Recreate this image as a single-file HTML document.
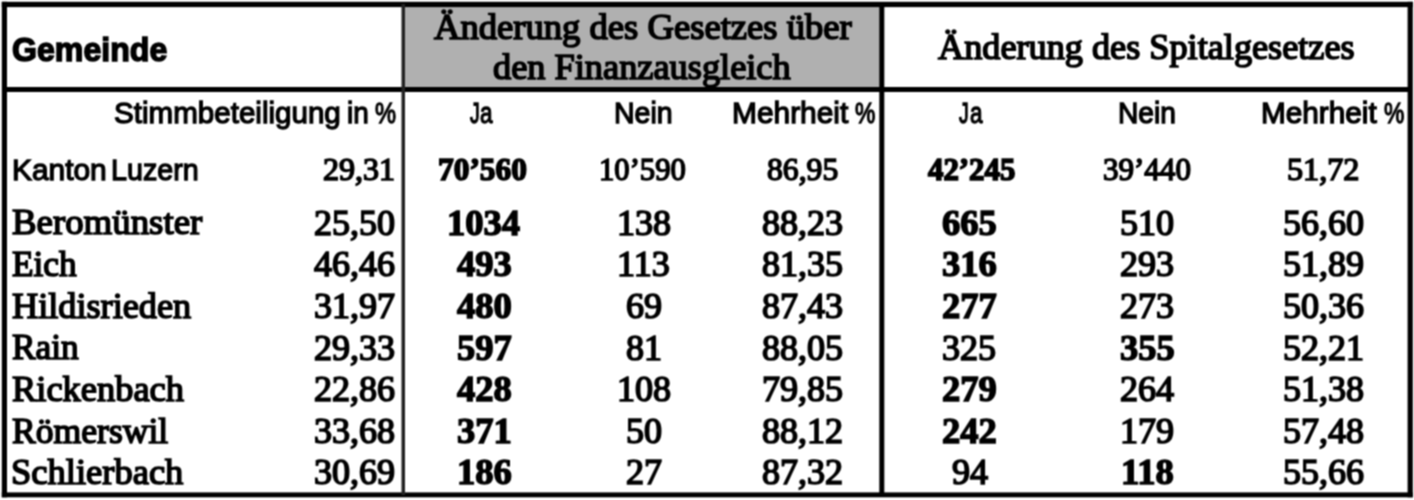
<!DOCTYPE html>
<html lang="de">
<head>
<meta charset="utf-8">
<title>Abstimmungsresultate</title>
<style>
html,body{margin:0;padding:0;background:#fff;}
body{width:1414px;height:500px;position:relative;overflow:hidden;font-family:"Liberation Serif",serif;color:#000;}
#page{position:absolute;left:0;top:0;width:1414px;height:500px;filter:url(#soft);}
#txt{position:absolute;left:0;top:0;width:1414px;height:500px;}
.box{position:absolute;box-sizing:border-box;}
.t{position:absolute;white-space:nowrap;line-height:1;transform-origin:0 0;-webkit-text-stroke-color:#000;}
.sf{font-family:"Liberation Serif",serif;}
.ss{font-family:"Liberation Sans",sans-serif;}
.b{font-weight:bold;}
</style>
</head>
<body>
<svg width="0" height="0" style="position:absolute;left:0;top:0;"><defs>
<filter id="soft" x="0" y="0" width="100%" height="100%" filterUnits="objectBoundingBox" color-interpolation-filters="sRGB">
<feConvolveMatrix order="3" kernelMatrix="1 2 1 2 4 2 1 2 1" divisor="16" edgeMode="duplicate" preserveAlpha="false"/>
</filter></defs></svg>
<div id="page">
<svg id="rules" class="box" style="left:0;top:0;" width="1414" height="500" viewBox="0 0 1414 500">
<!-- grey header cell -->
<rect x="403" y="4" width="479" height="86" fill="#b0b0b0"/>
<!-- outer frame -->
<rect x="1.8" y="1.8" width="1411" height="5.3" fill="#000"/>
<rect x="1.8" y="492.4" width="1411" height="4.9" fill="#000"/>
<rect x="1.8" y="1.8" width="5.2" height="495.5" fill="#000"/>
<rect x="1407.6" y="1.8" width="5.2" height="495.5" fill="#000"/>
<!-- header bottom rule -->
<rect x="4" y="87.0" width="1407" height="5.0" fill="#000"/>
<!-- vertical rules -->
<rect x="401.5" y="4" width="3.5" height="491" fill="#222"/>
<rect x="879.3" y="4" width="5.0" height="491" fill="#000"/>
</svg>
<div id="txt">

<span class="t ss b" style="left:11.76px;top:32.97px;font-size:33px;transform:scaleX(0.9731);-webkit-text-stroke-width:1.5px;">Gemeinde</span>
<span class="t sf" style="left:433.64px;top:9.69px;font-size:35px;transform:scaleX(1.0459);-webkit-text-stroke-width:1.6px;">Änderung des Gesetzes über</span>
<span class="t sf" style="left:493.29px;top:50.19px;font-size:35px;transform:scaleX(1.0382);-webkit-text-stroke-width:1.6px;">den Finanzausgleich</span>
<span class="t sf" style="left:938.03px;top:29.99px;font-size:35px;transform:scaleX(1.0353);-webkit-text-stroke-width:1.6px;">Änderung des Spitalgesetzes</span>
<span class="t ss" style="left:113.55px;top:97.73px;font-size:29.5px;transform:scaleX(1.0024);-webkit-text-stroke-width:1.3px;">Stimmbeteiligung</span>
<span class="t ss" style="left:346.97px;top:97.73px;font-size:29.5px;transform:scaleX(0.9472);-webkit-text-stroke-width:1.3px;">in</span>
<span class="t ss" style="left:374.52px;top:97.73px;font-size:29.5px;transform:scaleX(0.8023);-webkit-text-stroke-width:1.3px;">%</span>
<span class="t ss" style="left:470.23px;top:97.73px;font-size:29.5px;transform:scaleX(0.6573);-webkit-text-stroke-width:1.3px;">J</span>
<span class="t ss" style="left:480.33px;top:97.73px;font-size:29.5px;transform:scaleX(0.7630);-webkit-text-stroke-width:1.3px;">a</span>
<span class="t ss" style="left:614.30px;top:97.73px;font-size:29.5px;transform:scaleX(0.9665);-webkit-text-stroke-width:1.3px;">Nein</span>
<span class="t ss" style="left:731.53px;top:97.73px;font-size:29.5px;transform:scaleX(1.0134);-webkit-text-stroke-width:1.3px;">Mehrheit</span>
<span class="t ss" style="left:854.83px;top:97.73px;font-size:29.5px;transform:scaleX(0.7757);-webkit-text-stroke-width:1.3px;">%</span>
<span class="t ss" style="left:959.43px;top:97.73px;font-size:29.5px;transform:scaleX(0.6573);-webkit-text-stroke-width:1.3px;">J</span>
<span class="t ss" style="left:969.53px;top:97.73px;font-size:29.5px;transform:scaleX(0.7630);-webkit-text-stroke-width:1.3px;">a</span>
<span class="t ss" style="left:1117.61px;top:97.73px;font-size:29.5px;transform:scaleX(0.9562);-webkit-text-stroke-width:1.3px;">Nein</span>
<span class="t ss" style="left:1260.54px;top:97.73px;font-size:29.5px;transform:scaleX(1.0081);-webkit-text-stroke-width:1.3px;">Mehrheit</span>
<span class="t ss" style="left:1383.83px;top:97.73px;font-size:29.5px;transform:scaleX(0.7757);-webkit-text-stroke-width:1.3px;">%</span>
<span class="t ss" style="left:12.03px;top:155.13px;font-size:29.5px;transform:scaleX(1.0132);-webkit-text-stroke-width:1.3px;">Kanton</span>
<span class="t ss" style="left:111.09px;top:155.13px;font-size:29.5px;transform:scaleX(0.9717);-webkit-text-stroke-width:1.3px;">Luzern</span>
<span class="t sf" style="left:323.24px;top:154.14px;font-size:31px;transform:scaleX(1.0327);-webkit-text-stroke-width:1.5px;">29,31</span>
<span class="t sf b" style="left:438.30px;top:154.14px;font-size:31px;transform:scaleX(1.0122);-webkit-text-stroke-width:1.6px;">70’560</span>
<span class="t sf" style="left:598.96px;top:154.14px;font-size:31px;transform:scaleX(0.9882);-webkit-text-stroke-width:1.5px;">10’590</span>
<span class="t sf" style="left:767.24px;top:154.14px;font-size:31px;transform:scaleX(1.0208);-webkit-text-stroke-width:1.5px;">86,95</span>
<span class="t sf b" style="left:928.10px;top:154.14px;font-size:31px;transform:scaleX(0.9941);-webkit-text-stroke-width:1.6px;">42’245</span>
<span class="t sf" style="left:1103.35px;top:154.14px;font-size:31px;transform:scaleX(1.0009);-webkit-text-stroke-width:1.5px;">39’440</span>
<span class="t sf" style="left:1286.64px;top:154.14px;font-size:31px;transform:scaleX(1.0371);-webkit-text-stroke-width:1.5px;">51,72</span>
<span class="t sf" style="left:12.30px;top:204.43px;font-size:36.5px;transform:scaleX(1.0091);-webkit-text-stroke-width:1.6px;">Beromünster</span>
<span class="t sf" style="left:314.38px;top:205.69px;font-size:35px;transform:scaleX(1.0300);-webkit-text-stroke-width:1.6px;">25,50</span>
<span class="t sf b" style="left:447.43px;top:205.69px;font-size:35px;transform:scaleX(1.0450);-webkit-text-stroke-width:1.4px;">1034</span>
<span class="t sf" style="left:616.76px;top:205.69px;font-size:35px;transform:scaleX(1.0300);-webkit-text-stroke-width:1.6px;">138</span>
<span class="t sf" style="left:761.94px;top:205.69px;font-size:35px;transform:scaleX(1.0300);-webkit-text-stroke-width:1.6px;">88,23</span>
<span class="t sf b" style="left:941.57px;top:205.69px;font-size:35px;transform:scaleX(1.0450);-webkit-text-stroke-width:1.4px;">665</span>
<span class="t sf" style="left:1119.96px;top:205.69px;font-size:35px;transform:scaleX(1.0300);-webkit-text-stroke-width:1.6px;">510</span>
<span class="t sf" style="left:1283.04px;top:205.69px;font-size:35px;transform:scaleX(1.0300);-webkit-text-stroke-width:1.6px;">56,60</span>
<span class="t sf" style="left:12.31px;top:246.05px;font-size:36.5px;transform:scaleX(0.9667);-webkit-text-stroke-width:1.6px;">Eich</span>
<span class="t sf" style="left:314.38px;top:247.31px;font-size:35px;transform:scaleX(1.0300);-webkit-text-stroke-width:1.6px;">46,46</span>
<span class="t sf b" style="left:456.57px;top:247.31px;font-size:35px;transform:scaleX(1.0450);-webkit-text-stroke-width:1.4px;">493</span>
<span class="t sf" style="left:617.43px;top:247.31px;font-size:35px;transform:scaleX(1.0300);-webkit-text-stroke-width:1.6px;">113</span>
<span class="t sf" style="left:761.94px;top:247.31px;font-size:35px;transform:scaleX(1.0300);-webkit-text-stroke-width:1.6px;">81,35</span>
<span class="t sf b" style="left:941.57px;top:247.31px;font-size:35px;transform:scaleX(1.0450);-webkit-text-stroke-width:1.4px;">316</span>
<span class="t sf" style="left:1119.96px;top:247.31px;font-size:35px;transform:scaleX(1.0300);-webkit-text-stroke-width:1.6px;">293</span>
<span class="t sf" style="left:1283.04px;top:247.31px;font-size:35px;transform:scaleX(1.0300);-webkit-text-stroke-width:1.6px;">51,89</span>
<span class="t sf" style="left:12.30px;top:287.67px;font-size:36.5px;transform:scaleX(0.9929);-webkit-text-stroke-width:1.6px;">Hildisrieden</span>
<span class="t sf" style="left:314.38px;top:288.93px;font-size:35px;transform:scaleX(1.0300);-webkit-text-stroke-width:1.6px;">31,97</span>
<span class="t sf b" style="left:456.57px;top:288.93px;font-size:35px;transform:scaleX(1.0450);-webkit-text-stroke-width:1.4px;">480</span>
<span class="t sf" style="left:625.77px;top:288.93px;font-size:35px;transform:scaleX(1.0300);-webkit-text-stroke-width:1.6px;">69</span>
<span class="t sf" style="left:761.94px;top:288.93px;font-size:35px;transform:scaleX(1.0300);-webkit-text-stroke-width:1.6px;">87,43</span>
<span class="t sf b" style="left:941.57px;top:288.93px;font-size:35px;transform:scaleX(1.0450);-webkit-text-stroke-width:1.4px;">277</span>
<span class="t sf" style="left:1119.96px;top:288.93px;font-size:35px;transform:scaleX(1.0300);-webkit-text-stroke-width:1.6px;">273</span>
<span class="t sf" style="left:1283.04px;top:288.93px;font-size:35px;transform:scaleX(1.0300);-webkit-text-stroke-width:1.6px;">50,36</span>
<span class="t sf" style="left:12.31px;top:329.29px;font-size:36.5px;transform:scaleX(0.9684);-webkit-text-stroke-width:1.6px;">Rain</span>
<span class="t sf" style="left:314.38px;top:330.55px;font-size:35px;transform:scaleX(1.0300);-webkit-text-stroke-width:1.6px;">29,33</span>
<span class="t sf b" style="left:456.57px;top:330.55px;font-size:35px;transform:scaleX(1.0450);-webkit-text-stroke-width:1.4px;">597</span>
<span class="t sf" style="left:625.77px;top:330.55px;font-size:35px;transform:scaleX(1.0300);-webkit-text-stroke-width:1.6px;">81</span>
<span class="t sf" style="left:761.94px;top:330.55px;font-size:35px;transform:scaleX(1.0300);-webkit-text-stroke-width:1.6px;">88,05</span>
<span class="t sf" style="left:941.96px;top:330.55px;font-size:35px;transform:scaleX(1.0300);-webkit-text-stroke-width:1.6px;">325</span>
<span class="t sf b" style="left:1119.57px;top:330.55px;font-size:35px;transform:scaleX(1.0450);-webkit-text-stroke-width:1.4px;">355</span>
<span class="t sf" style="left:1283.04px;top:330.55px;font-size:35px;transform:scaleX(1.0300);-webkit-text-stroke-width:1.6px;">52,21</span>
<span class="t sf" style="left:12.30px;top:370.91px;font-size:36.5px;transform:scaleX(0.9980);-webkit-text-stroke-width:1.6px;">Rickenbach</span>
<span class="t sf" style="left:314.38px;top:372.17px;font-size:35px;transform:scaleX(1.0300);-webkit-text-stroke-width:1.6px;">22,86</span>
<span class="t sf b" style="left:456.57px;top:372.17px;font-size:35px;transform:scaleX(1.0450);-webkit-text-stroke-width:1.4px;">428</span>
<span class="t sf" style="left:616.76px;top:372.17px;font-size:35px;transform:scaleX(1.0300);-webkit-text-stroke-width:1.6px;">108</span>
<span class="t sf" style="left:761.94px;top:372.17px;font-size:35px;transform:scaleX(1.0300);-webkit-text-stroke-width:1.6px;">79,85</span>
<span class="t sf b" style="left:941.57px;top:372.17px;font-size:35px;transform:scaleX(1.0450);-webkit-text-stroke-width:1.4px;">279</span>
<span class="t sf" style="left:1119.96px;top:372.17px;font-size:35px;transform:scaleX(1.0300);-webkit-text-stroke-width:1.6px;">264</span>
<span class="t sf" style="left:1283.04px;top:372.17px;font-size:35px;transform:scaleX(1.0300);-webkit-text-stroke-width:1.6px;">51,38</span>
<span class="t sf" style="left:12.30px;top:412.53px;font-size:36.5px;transform:scaleX(0.9754);-webkit-text-stroke-width:1.6px;">Römerswil</span>
<span class="t sf" style="left:314.38px;top:413.79px;font-size:35px;transform:scaleX(1.0300);-webkit-text-stroke-width:1.6px;">33,68</span>
<span class="t sf b" style="left:456.57px;top:413.79px;font-size:35px;transform:scaleX(1.0450);-webkit-text-stroke-width:1.4px;">371</span>
<span class="t sf" style="left:625.77px;top:413.79px;font-size:35px;transform:scaleX(1.0300);-webkit-text-stroke-width:1.6px;">50</span>
<span class="t sf" style="left:761.94px;top:413.79px;font-size:35px;transform:scaleX(1.0300);-webkit-text-stroke-width:1.6px;">88,12</span>
<span class="t sf b" style="left:941.57px;top:413.79px;font-size:35px;transform:scaleX(1.0450);-webkit-text-stroke-width:1.4px;">242</span>
<span class="t sf" style="left:1119.96px;top:413.79px;font-size:35px;transform:scaleX(1.0300);-webkit-text-stroke-width:1.6px;">179</span>
<span class="t sf" style="left:1283.04px;top:413.79px;font-size:35px;transform:scaleX(1.0300);-webkit-text-stroke-width:1.6px;">57,48</span>
<span class="t sf" style="left:11.30px;top:454.15px;font-size:36.5px;transform:scaleX(1.0004);-webkit-text-stroke-width:1.6px;">Schlierbach</span>
<span class="t sf" style="left:314.38px;top:455.41px;font-size:35px;transform:scaleX(1.0300);-webkit-text-stroke-width:1.6px;">30,69</span>
<span class="t sf b" style="left:456.57px;top:455.41px;font-size:35px;transform:scaleX(1.0450);-webkit-text-stroke-width:1.4px;">186</span>
<span class="t sf" style="left:625.77px;top:455.41px;font-size:35px;transform:scaleX(1.0300);-webkit-text-stroke-width:1.6px;">27</span>
<span class="t sf" style="left:761.94px;top:455.41px;font-size:35px;transform:scaleX(1.0300);-webkit-text-stroke-width:1.6px;">87,32</span>
<span class="t sf" style="left:952.48px;top:455.41px;font-size:35px;transform:scaleX(1.0300);-webkit-text-stroke-width:1.6px;">94</span>
<span class="t sf b" style="left:1120.58px;top:455.41px;font-size:35px;transform:scaleX(1.0450);-webkit-text-stroke-width:1.4px;">118</span>
<span class="t sf" style="left:1283.04px;top:455.41px;font-size:35px;transform:scaleX(1.0300);-webkit-text-stroke-width:1.6px;">55,66</span>
</div>
</div>
</body>
</html>
